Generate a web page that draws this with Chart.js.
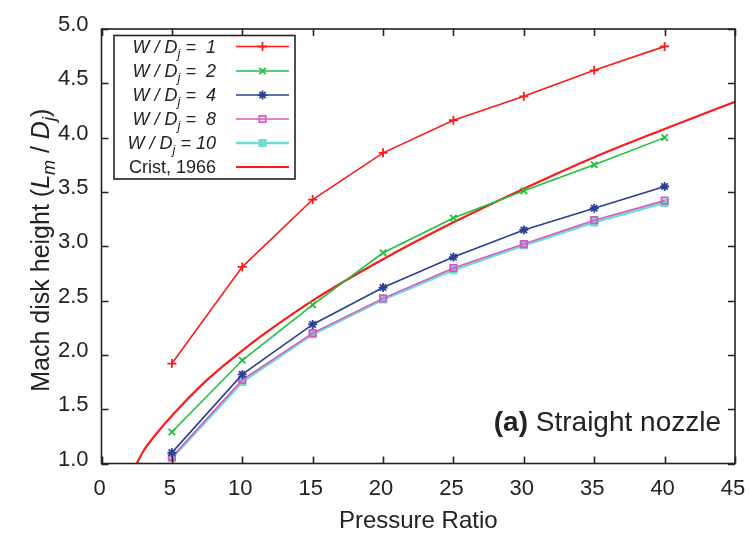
<!DOCTYPE html>
<html lang="en">
<head>
    <meta charset="UTF-8">
    <title>Mach disk height vs pressure ratio</title>
    <script src="https://cdn.jsdelivr.net/npm/chart.js"></script>
    <style>
        html, body { margin: 0; padding: 0; background: #fff; }
        #wrap { width: 749px; height: 533px; position: relative; }
    </style>
</head>
<body>
    <div id="wrap"><canvas id="chart"></canvas></div>
    <script>
        // Values
        const pressureRatio = [5, 10, 15, 20, 25, 30, 35, 40];
        const wd1 = [1.92, 2.81, 3.43, 3.86, 4.16, 4.38, 4.62, 4.84];
        const wd2 = [1.29, 1.95, 2.46, 2.94, 3.26, 3.51, 3.75, 4.00];
        const wd4 = [1.10, 1.82, 2.28, 2.62, 2.90, 3.15, 3.35, 3.55];
        const wd8 = [1.06, 1.77, 2.20, 2.52, 2.80, 3.02, 3.24, 3.42];
        const wd10 = [1.05, 1.75, 2.19, 2.51, 2.78, 3.01, 3.22, 3.40];

        // Crist, 1966 correlation, read at a few points along the curve
        const cristX = [2.5, 3, 4, 5, 7.5, 10, 12.5, 15, 20, 25, 30, 35, 40, 45];
        const cristY = [1.0, 1.12, 1.29, 1.44, 1.77, 2.04, 2.28, 2.50, 2.88, 3.22, 3.53, 3.82, 4.08, 4.33];

        const legendLabels = [' 1', ' 2', ' 4', ' 8', '10'];
        const FONT = '"Liberation Sans", Arial, Helvetica, sans-serif';

        function pts(xs, ys) {
            return xs.map((x, i) => ({ x: x, y: ys[i] }));
        }

        function series(label, ys, color, style, width, filled) {
            return {
                label: label,
                data: pts(pressureRatio, ys),
                borderColor: color,
                backgroundColor: filled ? color : 'rgba(0,0,0,0)',
                borderWidth: width,
                pointStyle: style,
                pointRadius: 4.5,
                pointBorderWidth: 1.8,
                pointBorderColor: color,
                pointBackgroundColor: filled ? color : 'rgba(0,0,0,0)',
                showLine: true,
                tension: 0
            };
        }

        const datasets = [
            series('W/Dj = 1', wd1, '#ff1a1a', 'cross', 1.6, false),
            series('W/Dj = 2', wd2, '#1ec040', 'crossRot', 1.6, false),
            series('W/Dj = 4', wd4, '#2a3f96', 'star', 1.6, false),
            series('W/Dj = 8', wd8, '#d859c4', 'rect', 1.6, false),
            series('W/Dj = 10', wd10, '#6ddcd4', 'rect', 2.6, true),
            {
                label: 'Crist, 1966',
                data: pts(cristX, cristY),
                borderColor: '#ff1a1a',
                borderWidth: 2.2,
                pointRadius: 0,
                showLine: true,
                cubicInterpolationMode: 'monotone'
            }
        ];
        // draw the thick cyan line beneath the magenta one
        datasets[4].order = 1;
        datasets[3].order = 0;

        // frame, inward ticks, y title, legend box and annotation
        const decorations = {
            id: 'decorations',
            afterDatasetsDraw(chart) {
                const ctx = chart.ctx;
                const a = chart.chartArea;
                const xs = chart.scales.x, ys = chart.scales.y;
                const tick = 7;
                ctx.save();
                ctx.strokeStyle = '#222';
                ctx.lineWidth = 1.6;
                ctx.strokeRect(a.left, a.top, a.right - a.left, a.bottom - a.top);
                ctx.beginPath();
                xs.ticks.forEach(t => {
                    const px = Math.round(xs.getPixelForValue(t.value)) + 0.5;
                    ctx.moveTo(px, a.bottom); ctx.lineTo(px, a.bottom - tick);
                    ctx.moveTo(px, a.top); ctx.lineTo(px, a.top + tick);
                });
                ys.ticks.forEach(t => {
                    const py = Math.round(ys.getPixelForValue(t.value)) + 0.5;
                    ctx.moveTo(a.left, py); ctx.lineTo(a.left + tick, py);
                    ctx.moveTo(a.right, py); ctx.lineTo(a.right - tick, py);
                });
                ctx.stroke();

                // y axis title with subscripts
                ctx.save();
                ctx.translate(49, (a.top + a.bottom) / 2 + 4);
                ctx.rotate(-Math.PI / 2);
                ctx.fillStyle = '#222';
                ctx.textBaseline = 'alphabetic';
                const big = 25, small = 18;
                const parts = [
                    ['Mach disk height (', big, '', 0],
                    ['L', big, 'italic ', 0],
                    ['m', small, 'italic ', 6],
                    [' / ', big, '', 0],
                    ['D', big, 'italic ', 0],
                    ['j', small, 'italic ', 6],
                    [')', big, '', 0]
                ];
                let w = 0;
                parts.forEach(p => { ctx.font = p[2] + p[1] + 'px ' + FONT; w += ctx.measureText(p[0]).width; });
                let cx = -w / 2;
                parts.forEach(p => {
                    ctx.font = p[2] + p[1] + 'px ' + FONT;
                    ctx.fillText(p[0], cx, p[3]);
                    cx += ctx.measureText(p[0]).width;
                });
                ctx.restore();

                // legend
                const box = { l: 114, t: 35.5, r: 295, b: 179 };
                ctx.fillStyle = '#fff';
                ctx.fillRect(box.l, box.t, box.r - box.l, box.b - box.t);
                ctx.strokeStyle = '#222';
                ctx.lineWidth = 1.6;
                ctx.strokeRect(box.l, box.t, box.r - box.l, box.b - box.t);
                const rowY = [46.5, 71, 95, 119, 143, 167];
                const textRight = 216, lineL = 236, lineR = 289;
                chart.data.datasets.forEach((ds, i) => {
                    const y = rowY[i];
                    ctx.textBaseline = 'alphabetic';
                    ctx.fillStyle = '#222';
                    if (i < legendLabels.length) {
                        const segs = [
                            ['W / D', 18, 0],
                            ['j', 13, 5],
                            [' = ' + legendLabels[i], 18, 0]
                        ];
                        let tw = 0;
                        segs.forEach(s => { ctx.font = 'italic ' + s[1] + 'px ' + FONT; tw += ctx.measureText(s[0]).width; });
                        let tx = textRight - tw;
                        segs.forEach(s => {
                            ctx.font = 'italic ' + s[1] + 'px ' + FONT;
                            ctx.fillText(s[0], tx, y + 6 + s[2]);
                            tx += ctx.measureText(s[0]).width;
                        });
                    } else {
                        ctx.font = '18px ' + FONT;
                        ctx.textAlign = 'right';
                        ctx.fillText(ds.label, textRight, y + 6);
                        ctx.textAlign = 'left';
                    }
                    ctx.strokeStyle = ds.borderColor;
                    ctx.lineWidth = ds.borderWidth;
                    ctx.beginPath();
                    ctx.moveTo(lineL, y); ctx.lineTo(lineR, y);
                    ctx.stroke();
                    if (ds.pointRadius > 0) {
                        ctx.strokeStyle = ds.pointBorderColor;
                        ctx.fillStyle = ds.pointBackgroundColor;
                        ctx.lineWidth = ds.pointBorderWidth;
                        Chart.helpers.drawPoint(ctx, {
                            pointStyle: ds.pointStyle, radius: ds.pointRadius,
                            borderWidth: ds.pointBorderWidth, rotation: 0
                        }, (lineL + lineR) / 2, y);
                    }
                });

                // panel annotation
                ctx.textBaseline = 'alphabetic';
                ctx.fillStyle = '#222';
                ctx.font = '28px ' + FONT;
                const rest = ' Straight nozzle';
                const restW = ctx.measureText(rest).width;
                ctx.font = 'bold 28px ' + FONT;
                const headW = ctx.measureText('(a)').width;
                const right = 721, base = 431;
                ctx.fillText('(a)', right - restW - headW, base);
                ctx.font = '28px ' + FONT;
                ctx.fillText(rest, right - restW, base);
                ctx.restore();
            }
        };

        new Chart(document.getElementById('chart'), {
            type: 'scatter',
            data: { datasets: datasets },
            plugins: [decorations],
            options: {
                responsive: true,
                maintainAspectRatio: false,
                animation: false,
                layout: { padding: { top: 29, right: 14, left: 0, bottom: 0 } },
                plugins: {
                    legend: { display: false },
                    tooltip: { enabled: false }
                },
                scales: {
                    x: {
                        type: 'linear',
                        min: 0, max: 45,
                        afterFit(scale) {
                            scale.height = 69.5;
                            scale.paddingLeft = 0;
                            scale.paddingRight = 0;
                        },
                        border: { display: false },
                        grid: { display: false, drawTicks: false },
                        ticks: {
                            stepSize: 5,
                            padding: 12,
                            labelOffset: -2,
                            color: '#222',
                            font: { family: FONT, size: 22 },
                            maxRotation: 0
                        },
                        title: {
                            display: true,
                            text: 'Pressure Ratio',
                            color: '#222',
                            font: { family: FONT, size: 24, lineHeight: 1 },
                            padding: { top: 0, bottom: 0 }
                        }
                    },
                    y: {
                        type: 'linear',
                        min: 1, max: 5,
                        afterFit(scale) {
                            scale.width = 101.5;
                            scale.paddingTop = 0;
                            scale.paddingBottom = 0;
                        },
                        border: { display: false },
                        grid: { display: false, drawTicks: false },
                        ticks: {
                            stepSize: 0.5,
                            padding: 13,
                            labelOffset: -4,
                            color: '#222',
                            font: { family: FONT, size: 22 },
                            callback: v => v.toFixed(1)
                        }
                    }
                }
            }
        });
    </script>
</body>
</html>
